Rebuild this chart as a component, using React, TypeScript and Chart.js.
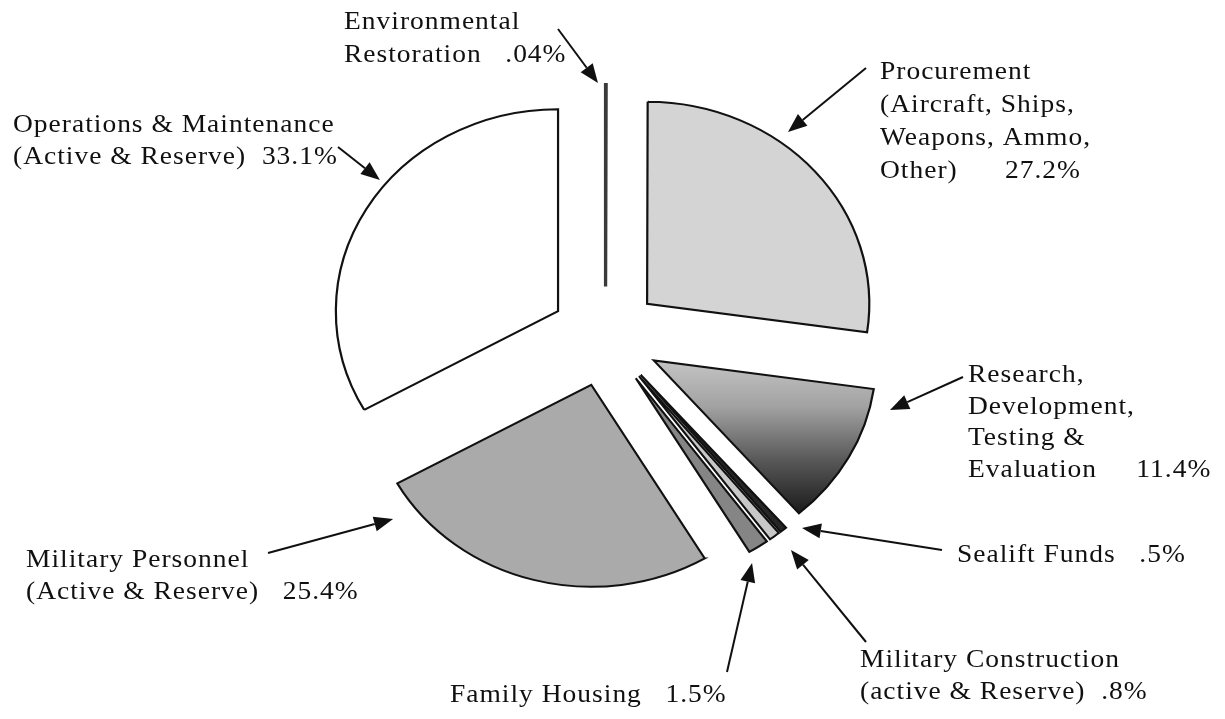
import React, { useEffect, useRef } from 'react';
import { Chart, registerables, ArcElement, PieController } from 'chart.js';

// ---------------- data ----------------
const categories = [
  'Environmental Restoration',
  'Procurement',
  'Research, Development, Testing & Evaluation',
  'Sealift Funds',
  'Military Construction',
  'Family Housing',
  'Military Personnel',
  'Operations & Maintenance',
];
const shares = [0.04, 27.2, 11.4, 0.5, 0.8, 1.5, 25.4, 33.1];
const labelLines = [
  ['Environmental', 'Restoration   .04%'],
  ['Procurement', '(Aircraft, Ships,', 'Weapons, Ammo,', 'Other)      27.2%'],
  ['Research,', 'Development,', 'Testing &', 'Evaluation     11.4%'],
  ['Sealift Funds   .5%'],
  ['Military Construction', '(active & Reserve)  .8%'],
  ['Family Housing   1.5%'],
  ['Military Personnel', '(Active & Reserve)   25.4%'],
  ['Operations & Maintenance', '(Active & Reserve)  33.1%'],
];
const sliceColors = ['#606060', '#d4d4d4', 'gradient', '#262626', '#c8c8c8', '#858585', '#aaaaaa', '#ffffff'];

// ---------------- layout / style ----------------
const W = 1225;
const H = 719;
const RADIUS = 202;
const EXPLODE = 50;
const STRETCH = 1.1;
const FONT = '25px "Liberation Serif", "Times New Roman", serif';
const LETTER_SPACING = '0.9px';
const INK = '#101010';

// label anchor (left x, first baseline y, line height), arrow tail (page px),
// arrow tip as clock angle (deg from 12 o'clock) and radius factor, relative to the slice's own apex
const LABEL_LAYOUT = [
  { x: 344, y: 29, lh: 33, tail: [558, 29], tipDeg: 358.06, tipK: 1.008 },
  { x: 880, y: 79, lh: 33, tail: [866, 68], tipDeg: 36.7, tipK: 1.061 },
  { x: 968, y: 382, lh: 31.5, tail: [963, 377], tipDeg: 102.99, tipK: 1.091 },
  { x: 957, y: 562, lh: 32, tail: [942, 550], tipDeg: 136.26, tipK: 1.049 },
  { x: 860, y: 667, lh: 32, tail: [866, 642], tipDeg: 141.53, tipK: 1.099 },
  { x: 450, y: 702, lh: 32, tail: [727, 672], tipDeg: 150.24, tipK: 1.054 },
  { x: 26, y: 567, lh: 32, tail: [268, 553], tipDeg: 233.33, tipK: 1.112 },
  { x: 13, y: 132, lh: 32.3, tail: [338, 147], tipDeg: 309.03, tipK: 1.032 },
];

// ---------------- custom element / controller ----------------
class ExplodedArc extends ArcElement {
  static id = 'explodedArc';
  static defaults = { ...(ArcElement as any).defaults, explode: 0, stretchX: 1 };
  draw(ctx: CanvasRenderingContext2D) {
    const self: any = this;
    const opts: any = self.options;
    const explode = opts.explode || 0;
    const sx = opts.stretchX || 1;
    const half = (self.startAngle + self.endAngle) / 2;
    ctx.save();
    ctx.translate(self.x, 0);
    ctx.scale(sx, 1);
    ctx.translate(-self.x, 0);
    ctx.translate(Math.cos(half) * explode, Math.sin(half) * explode);
    super.draw(ctx);
    ctx.restore();
  }
}

class ExplodedPieController extends PieController {
  static id = 'explodedPie';
  static defaults = { ...(PieController as any).defaults, dataElementType: 'explodedArc' };
}

Chart.register(...registerables, ExplodedArc as any, ExplodedPieController as any);

function rdGradient(chart: any) {
  const area = chart.chartArea;
  if (!area) return '#888888';
  const cy = (area.top + area.bottom) / 2;
  const g = chart.ctx.createLinearGradient(0, cy, 0, cy + RADIUS * 0.76);
  g.addColorStop(0, '#c4c4c4');
  g.addColorStop(0.3, '#a2a2a2');
  g.addColorStop(0.65, '#585858');
  g.addColorStop(1, '#1a1a1a');
  return g;
}

function drawArrow(ctx: CanvasRenderingContext2D, x1: number, y1: number, x2: number, y2: number) {
  const ang = Math.atan2(y2 - y1, x2 - x1);
  const len = 19;
  const hw = 7.5;
  const bx = x2 - Math.cos(ang) * len;
  const by = y2 - Math.sin(ang) * len;
  ctx.beginPath();
  ctx.moveTo(x1, y1);
  ctx.lineTo(bx, by);
  ctx.lineWidth = 2;
  ctx.strokeStyle = INK;
  ctx.stroke();
  ctx.beginPath();
  ctx.moveTo(x2, y2);
  ctx.lineTo(bx - Math.sin(ang) * hw, by + Math.cos(ang) * hw);
  ctx.lineTo(bx + Math.sin(ang) * hw, by - Math.cos(ang) * hw);
  ctx.closePath();
  ctx.fillStyle = INK;
  ctx.fill();
}

const labelPlugin = {
  id: 'sliceLabels',
  afterDraw(chart: any) {
    const ctx: CanvasRenderingContext2D = chart.ctx;
    const meta = chart.getDatasetMeta(0);
    ctx.save();
    ctx.font = FONT;
    ctx.textBaseline = 'alphabetic';
    ctx.textAlign = 'left';
    (ctx as any).letterSpacing = LETTER_SPACING;
    labelLines.forEach((lines, i) => {
      const L = LABEL_LAYOUT[i];
      lines.forEach((t, j) => {
        ctx.save();
        ctx.translate(L.x, L.y + j * L.lh);
        ctx.scale(STRETCH, 1);
        ctx.fillStyle = INK;
        ctx.fillText(t, 0, 0);
        ctx.restore();
      });
      const arc: any = meta.data[i];
      if (!arc) return;
      const o = arc.options;
      const half = (arc.startAngle + arc.endAngle) / 2;
      const ax = arc.x + Math.cos(half) * o.explode;
      const ay = arc.y + Math.sin(half) * o.explode;
      const a = ((L.tipDeg - 90) * Math.PI) / 180;
      const ux = ax + Math.cos(a) * L.tipK * arc.outerRadius;
      const uy = ay + Math.sin(a) * L.tipK * arc.outerRadius;
      const tx = arc.x + o.stretchX * (ux - arc.x);
      drawArrow(ctx, L.tail[0], L.tail[1], tx, uy);
    });
    ctx.restore();
  },
};

export default function App() {
  const ref = useRef<HTMLCanvasElement | null>(null);
  useEffect(() => {
    if (!ref.current) return;
    const chart = new Chart(ref.current, {
      type: 'explodedPie' as any,
      data: {
        labels: categories,
        datasets: [
          {
            data: shares,
            radius: RADIUS,
            explode: EXPLODE,
            stretchX: STRETCH,
            backgroundColor: (c: any) =>
              sliceColors[c.dataIndex] === 'gradient' ? rdGradient(c.chart) : sliceColors[c.dataIndex],
            borderColor: (c: any) => (c.dataIndex === 0 ? '#3a3a3a' : '#111111'),
            borderWidth: (c: any) => (c.dataIndex === 0 ? 3 : 2),
            borderJoinStyle: 'miter',
          } as any,
        ],
      },
      options: {
        responsive: false,
        animation: false,
        events: [],
        layout: { padding: { left: 0, right: 14, top: 0, bottom: 46 } },
        plugins: { legend: { display: false }, tooltip: { enabled: false } },
      } as any,
      plugins: [labelPlugin],
    });
    return () => chart.destroy();
  }, []);
  return (
    <div style={{ position: 'absolute', left: 0, top: 0, width: W, height: H, background: '#ffffff' }}>
      <canvas ref={ref} width={W} height={H} style={{ display: 'block' }} />
    </div>
  );
}
